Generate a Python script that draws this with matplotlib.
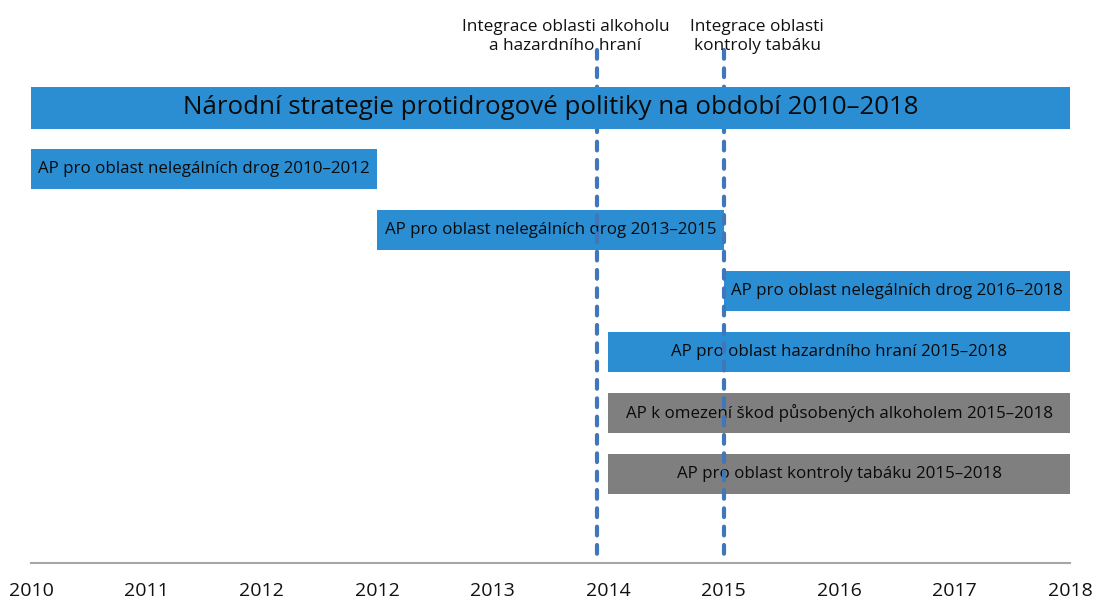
import matplotlib.pyplot as plt

plt.rcParams['font.family'] = ['Open Sans', 'DejaVu Sans']

# data
tick_labels = ['2010', '2011', '2012', '2012', '2013', '2014', '2015', '2016', '2017', '2018']
bar_names = [
    'Národní strategie protidrogové politiky na období 2010–2018',
    'AP pro oblast nelegálních drog 2010–2012',
    'AP pro oblast nelegálních drog 2013–2015',
    'AP pro oblast nelegálních drog 2016–2018',
    'AP pro oblast hazardního hraní 2015–2018',
    'AP k omezení škod působených alkoholem 2015–2018',
    'AP pro oblast kontroly tabáku 2015–2018',
]
bar_start = [0, 0, 3, 6, 5, 5, 5]
bar_end = [9, 3, 6, 9, 9, 9, 9]
bar_group = ['main', 'blue', 'blue', 'blue', 'blue', 'grey', 'grey']
milestone_x = [4.9, 6.0]
milestone_labels = ['Integrace oblasti alkoholu\na hazardního hraní',
                    'Integrace oblasti\nkontroly tabáku']

colors = {'main': '#2B8ED3', 'blue': '#2B8ED3', 'grey': '#7F7F7F'}

W, H = 1097, 604
fig = plt.figure(figsize=(W / 100, H / 100), dpi=100)
ax = fig.add_axes([31 / W, (H - 563) / H, 1039 / W, 563 / H])
y_bottom = (563 - 108) / 61
y_top = -108 / 61
ax.set_xlim(0, 9)
ax.set_ylim(y_bottom, y_top)

for i, (name, s, e, g) in enumerate(zip(bar_names, bar_start, bar_end, bar_group)):
    if g == 'main':
        ax.barh(i, e - s + 0.03, left=s, height=0.69, color=colors[g], zorder=4)
        ax.text((s + e) / 2, i, name, ha='center', va='center', fontsize=18.6,
                color='#0A0A0A', zorder=5)
    else:
        ax.barh(i, e - s, left=s, height=0.64, color=colors[g], zorder=2)
        ax.text((s + e) / 2, i, name, ha='center', va='center', fontsize=12.2,
                color='#0A0A0A', zorder=2.5)

# milestone lines
offsets = [-0.27, 0.29]
for x, lab, off in zip(milestone_x, milestone_labels, offsets):
    ax.vlines(x, -0.95, y_bottom, colors='#4276BA', linewidth=3,
              linestyles=(0, (2.1, 2.3)), capstyle='round', zorder=3, clip_on=False)
    ax.text(x + off, -1.18, lab, ha='center', va='center', fontsize=12.4,
            color='#111111', linespacing=1.25)

ax.set_xticks(range(len(tick_labels)))
ax.set_xticklabels(tick_labels, fontsize=14, color='#111111')
ax.tick_params(axis='x', length=0, pad=14)
ax.set_yticks([])
for side in ['top', 'left', 'right']:
    ax.spines[side].set_visible(False)
ax.spines['bottom'].set_color('#A6A6A6')
ax.spines['bottom'].set_linewidth(1.5)

fig.savefig('out.png', dpi=100)
